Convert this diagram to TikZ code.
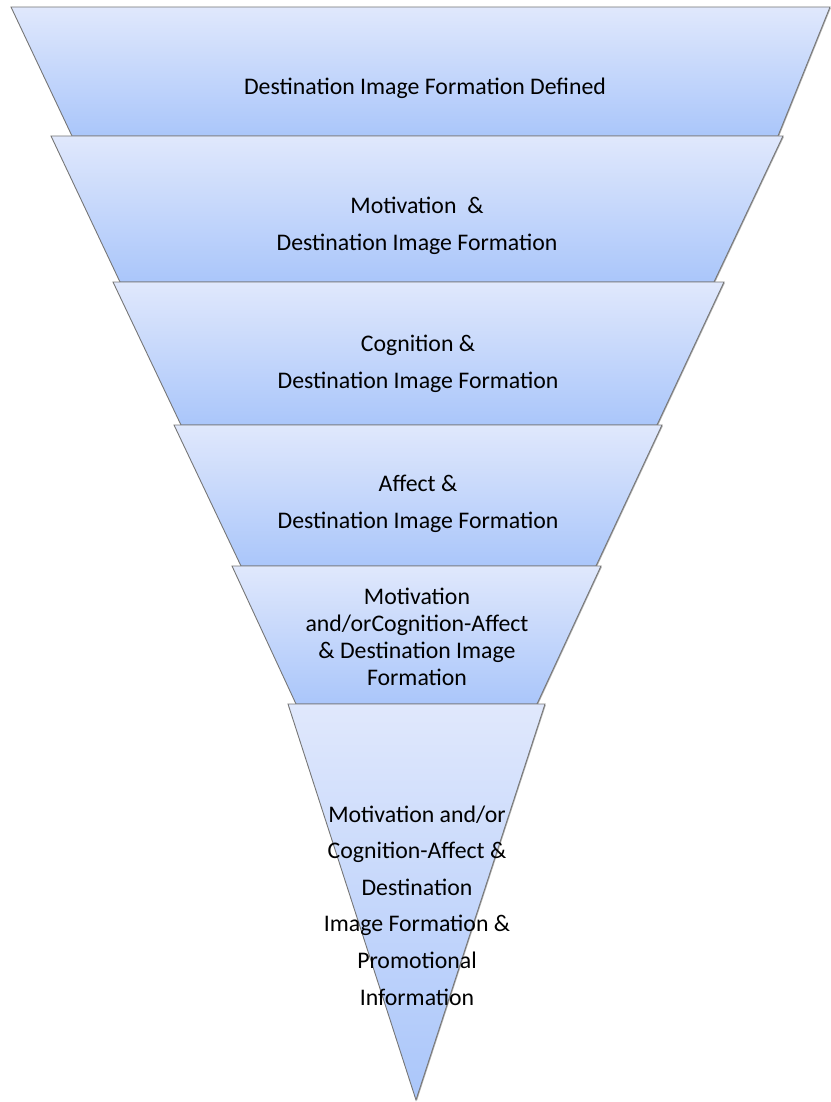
\documentclass[tikz,border=0pt]{standalone}
\usepackage{fontspec}
\setmainfont{Carlito}
\usetikzlibrary{shadows}
\definecolor{segtop}{RGB}{224,232,252}
\definecolor{segbot}{RGB}{170,198,250}
\definecolor{segline}{RGB}{118,118,118}
\begin{document}
\begin{tikzpicture}[x=1pt,y=-1pt,
  seg/.style={draw=segline, line width=0.9pt, line join=miter,
    top color=segtop, bottom color=segbot,
    drop shadow={shadow xshift=0.9pt, shadow yshift=-0.9pt, opacity=0.3, fill=black}},
  % labels are placed by the baseline of their last line
  lbl/.style={anchor=base, align=center, text=black,
    font=\fontsize{23.8}{37}\selectfont},
  tight/.style={font=\fontsize{23.8}{27}\selectfont},
  loose/.style={font=\fontsize{23.8}{36.6}\selectfont}]
\useasboundingbox (0,0) rectangle (830,1102);

% funnel segments, drawn from the widest down
\path[seg] (11,7) -- (830,7) -- (778,136) -- (72,136) -- cycle;
\path[seg] (51,136) -- (783,136) -- (714,282) -- (120,282) -- cycle;
\path[seg] (113,282) -- (724,282) -- (657,425) -- (181,425) -- cycle;
\path[seg] (174,425) -- (662,425) -- (596,566) -- (241,566) -- cycle;
\path[seg] (232,566) -- (601,566) -- (537,704) -- (296,704) -- cycle;
\path[seg] (288,704) -- (545,704) -- (416,1100) -- cycle;

% labels
\node[lbl] (t1) at (425,95) {Destination Image Formation Defined};
\node[lbl] (t2) at (417,250) {Motivation\ \ \&\\Destination Image Formation};
\node[lbl] (t3) at (418,388) {Cognition \&\\Destination Image Formation};
\node[lbl] (t4) at (418,528) {Affect \&\\Destination Image Formation};
\node[lbl,tight] (t5) at (417,685) {Motivation\\and/orCognition-Affect\\\& Destination Image\\Formation};
\node[lbl,loose] (t6) at (417,1005) {Motivation and/or\\Cognition-Affect \&\\Destination\\Image Formation \&\\Promotional\\Information};
\end{tikzpicture}
\end{document}
